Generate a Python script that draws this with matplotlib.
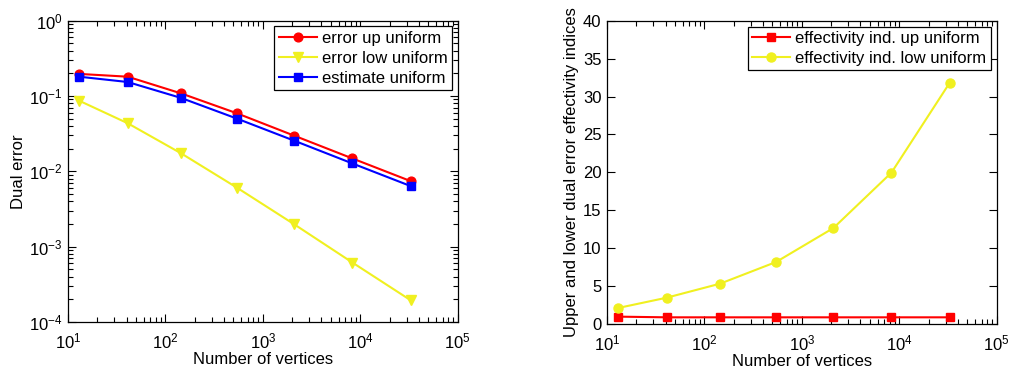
import matplotlib
matplotlib.use("Agg")
import matplotlib.pyplot as plt
from matplotlib.ticker import LogLocator, NullFormatter

plt.rcParams['font.family'] = ['Liberation Sans', 'DejaVu Sans']
plt.rcParams['font.size'] = 12

vertices = [13, 41, 145, 545, 2113, 8321, 33025]
error_up = [0.196, 0.180, 0.108, 0.0587, 0.0296, 0.0148, 0.0074]
error_low = [0.0865, 0.0434, 0.0173, 0.00604, 0.00197, 0.000615, 0.000194]
estimate = [0.180, 0.153, 0.094, 0.0499, 0.0254, 0.0127, 0.00636]
eff_up = [0.97, 0.88, 0.88, 0.88, 0.88, 0.88, 0.88]
eff_low = [2.11, 3.47, 5.32, 8.18, 12.66, 19.96, 31.82]

YEL = '#f0f020'

fig = plt.figure(figsize=(10.12, 3.74), dpi=100)
ax1 = fig.add_axes([0.0672, 0.139, 0.385, 0.806])
ax2 = fig.add_axes([0.5998, 0.1337, 0.385, 0.811])

def style(ax):
    ax.tick_params(which='both', direction='in', top=True, right=True, labelsize=12)
    ax.tick_params(axis='x', pad=7)
    ax.tick_params(axis='y', pad=4)
    ax.tick_params(which='major', length=6, width=0.8)
    ax.tick_params(which='minor', length=3.5, width=0.8)
    for s in ax.spines.values():
        s.set_linewidth(0.9)

ax1.loglog(vertices, error_up, '-o', color='red', lw=1.5, ms=6.3, label='error up uniform')
ax1.loglog(vertices, error_low, '-v', color=YEL, lw=1.5, ms=6.8, label='error low uniform')
ax1.loglog(vertices, estimate, '-s', color='blue', lw=1.5, ms=5.3, label='estimate uniform')
ax1.set_xlim(10, 1e5)
ax1.set_ylim(1e-4, 1)
ax1.set_xlabel('Number of vertices', labelpad=0)
ax1.set_ylabel('Dual error', labelpad=2)
ax1.xaxis.set_minor_locator(LogLocator(base=10, subs=range(2, 10), numticks=20))
ax1.yaxis.set_minor_locator(LogLocator(base=10, subs=range(2, 10), numticks=20))
ax1.xaxis.set_minor_formatter(NullFormatter())
ax1.yaxis.set_minor_formatter(NullFormatter())
style(ax1)
leg1 = ax1.legend(loc='upper right', fancybox=False, edgecolor='black', framealpha=1,
                  handlelength=2.3, borderaxespad=0.35, borderpad=0.25, labelspacing=0.3,
                  handletextpad=0.3, fontsize=12)
leg1.get_frame().set_linewidth(0.9)

ax2.semilogx(vertices, eff_up, '-s', color='red', lw=1.5, ms=5.5, label='effectivity ind. up uniform')
ax2.semilogx(vertices, eff_low, '-o', color=YEL, lw=1.5, ms=6.5, label='effectivity ind. low uniform')
ax2.set_xlim(10, 1e5)
ax2.set_ylim(0, 40)
ax2.set_yticks(range(0, 41, 5))
ax2.set_xlabel('Number of vertices', labelpad=0)
ax2.set_ylabel('Upper and lower dual error effectivity indices', labelpad=3)
ax2.xaxis.set_minor_locator(LogLocator(base=10, subs=range(2, 10), numticks=20))
ax2.xaxis.set_minor_formatter(NullFormatter())
style(ax2)
leg2 = ax2.legend(loc='upper right', fancybox=False, edgecolor='black', framealpha=1,
                  handlelength=2.3, borderaxespad=0.35, borderpad=0.25, labelspacing=0.3,
                  handletextpad=0.3, fontsize=12)
leg2.get_frame().set_linewidth(0.9)

fig.savefig('out.png', dpi=100)
